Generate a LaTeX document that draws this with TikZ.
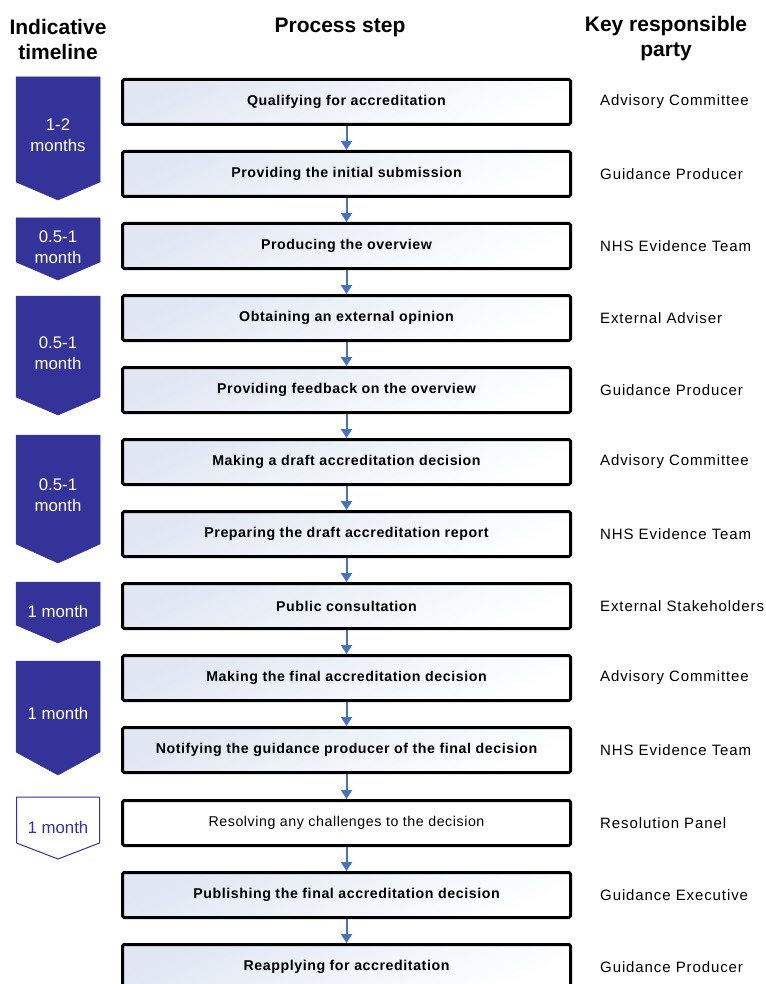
\documentclass[tikz,border=0pt]{standalone}
\usepackage{fontspec}
\setmainfont{Liberation Sans}
\newfontfamily\boxfont[LetterSpace=4]{Liberation Sans}
\newfontfamily\partyfont[LetterSpace=6]{Liberation Sans}
\usetikzlibrary{arrows.meta}
\definecolor{chev}{HTML}{333399}
\definecolor{arr}{HTML}{4472C4}
\definecolor{boxtop}{HTML}{E0E7F3}
\tikzset{
  stepbox/.style={draw=black, line width=3pt, rounded corners=1.5pt,
    minimum width=448pt, minimum height=45pt, inner sep=0pt,
    top color=boxtop, bottom color=white, shading angle=25,
    font=\boxfont\bfseries\fontsize{14.2}{16}\selectfont},
  plainbox/.style={stepbox, top color=white, bottom color=white},
  party/.style={anchor=west, inner sep=0pt, font=\partyfont\fontsize{15}{17}\selectfont},
  head/.style={align=center, font=\bfseries\fontsize{21}{25}\selectfont, inner sep=0pt},
  chevfill/.style={fill=chev, draw=chev, line width=0.5pt},
  chevline/.style={fill=white, draw=chev, line width=1pt},
  chevtext/.style={align=center, text=white, inner sep=0pt, font=\fontsize{16.8}{20.5}\selectfont},
  chevtextb/.style={chevtext, text=chev},
  flow/.style={draw=arr, line width=2pt, -{Triangle[width=11pt,length=9pt]}}
}
\begin{document}
\begin{tikzpicture}[x=1pt,y=-1pt]
\useasboundingbox (0,0) rectangle (765,984);
% headers
\node[head] (h1) at (58,39) {Indicative\\timeline};
\node[head] (h2) at (340,27) {Process step};
\node[head] (h3) at (666,39) {Key responsible\\party};
% chevrons
\draw[chevfill] (16,77) -- (100,77) -- (100,182) -- (58,200) -- (16,182) -- cycle;
\draw[chevfill] (16,218) -- (100,218) -- (100,262) -- (58,280) -- (16,262) -- cycle;
\draw[chevfill] (16,296) -- (100,296) -- (100,397) -- (58,415) -- (16,397) -- cycle;
\draw[chevfill] (16,435) -- (100,435) -- (100,544) -- (58,563) -- (16,544) -- cycle;
\draw[chevfill] (16,582) -- (100,582) -- (100,625) -- (58,643) -- (16,625) -- cycle;
\draw[chevfill] (16,661) -- (100,661) -- (100,752) -- (58,775) -- (16,752) -- cycle;
\draw[chevline] (16.5,797) -- (99.5,797) -- (99.5,843) -- (58,859) -- (16.5,843) -- cycle;
\node[chevtext] (t1) at (58,135) {1-2\\months};
\node[chevtext] (t2) at (58,247) {0.5-1\\month};
\node[chevtext] (t3) at (58,353) {0.5-1\\month};
\node[chevtext] (t4) at (58,495) {0.5-1\\month};
\node[chevtext] (t5) at (58,611) {1 month};
\node[chevtext] (t6) at (58,713) {1 month};
\node[chevtextb] (t7) at (58,827) {1 month};
% process boxes
\node[stepbox] (b1) at (346.5,102) {Qualifying for accreditation};
\node[stepbox] (b2) at (346.5,174) {Providing the initial submission};
\node[stepbox] (b3) at (346.5,246) {Producing the overview};
\node[stepbox] (b4) at (346.5,318) {Obtaining an external opinion};
\node[stepbox] (b5) at (346.5,390) {Providing feedback on the overview};
\node[stepbox] (b6) at (346.5,462) {Making a draft accreditation decision};
\node[stepbox] (b7) at (346.5,534) {Preparing the draft accreditation report};
\node[stepbox] (b8) at (346.5,606) {Public consultation};
\node[stepbox] (b9) at (346.5,678) {Making the final accreditation decision};
\node[stepbox] (b10) at (346.5,750) {Notifying the guidance producer of the final decision};
\node[plainbox, font=\boxfont\fontsize{14.2}{16}\selectfont] (b11) at (346.5,823) {Resolving any challenges to the decision};
\node[stepbox] (b12) at (346.5,895) {Publishing the final accreditation decision};
\node[stepbox] (b13) at (346.5,967) {Reapplying for accreditation};
% arrows
\foreach \a/\b in {b1/b2,b2/b3,b3/b4,b4/b5,b5/b6,b6/b7,b7/b8,b8/b9,b9/b10,b10/b11,b11/b12,b12/b13}
  \draw[flow] (\a.south) -- (\b.north);
% parties
\node[party] (p1) at (600,102) {Advisory Committee};
\node[party] (p2) at (600,174) {Guidance Producer};
\node[party] (p3) at (600,246) {NHS Evidence Team};
\node[party] (p4) at (600,318) {External Adviser};
\node[party] (p5) at (600,390) {Guidance Producer};
\node[party] (p6) at (600,462) {Advisory Committee};
\node[party] (p7) at (600,534) {NHS Evidence Team};
\node[party] (p8) at (600,606) {External Stakeholders};
\node[party] (p9) at (600,678) {Advisory Committee};
\node[party] (p10) at (600,750) {NHS Evidence Team};
\node[party] (p11) at (600,823) {Resolution Panel};
\node[party] (p12) at (600,895) {Guidance Executive};
\node[party] (p13) at (600,967) {Guidance Producer};
\end{tikzpicture}
\end{document}
